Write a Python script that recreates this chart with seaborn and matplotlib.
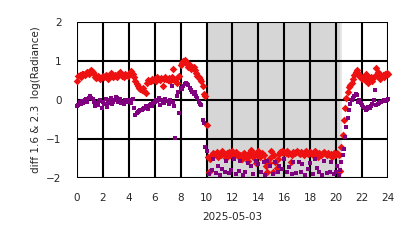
import numpy as np
import pandas as pd
import matplotlib
matplotlib.use("Agg")
import matplotlib.pyplot as plt
import seaborn as sns

# hours of day (one sample every 0.1 h)
hours = np.round(np.arange(0, 24.01, 0.1), 1)

red_diff = [
    0.50, 0.62, 0.65, 0.60, 0.66, 0.68, 0.64, 0.70, 0.72, 0.68,
    0.75, 0.78, 0.72, 0.66, 0.60, 0.56, 0.62, 0.58, 0.55, 0.60,
    0.62, 0.58, 0.64, 0.60, 0.55, 0.62, 0.70, 0.66, 0.60, 0.65,
    0.62, 0.60, 0.66, 0.72, 0.68, 0.62, 0.60, 0.66, 0.64, 0.62,
    0.66, 0.70, 0.74, 0.68, 0.60, 0.48, 0.40, 0.35, 0.32, 0.28,
    0.25, 0.30, 0.22, 0.18, 0.45, 0.52, 0.50, 0.48, 0.55, 0.52,
    0.55, 0.50, 0.58, 0.55, 0.52, 0.56, 0.35, 0.55, 0.58, 0.55,
    0.52, 0.56, 0.50, 0.60, 0.80, 0.55, 0.50, 0.45, 0.58, 0.62,
    0.90, 0.95, 1.00, 1.02, 0.98, 0.92, 0.85, 0.90, 0.80, 0.82,
    0.86, 0.76, 0.70, 0.62, 0.58, 0.55, 0.50, 0.35, 0.15, 0.10,
    -0.65, -1.45, -1.85, -1.50, -1.40, -1.35, -1.42, -1.38, -1.32, -1.45,
    -1.38, -1.40, -1.30, -1.35, -1.42, -1.48, -1.36, -1.32, -1.40, -1.35,
    -1.30, -1.35, -1.40, -1.32, -1.38, -1.45, -1.42, -1.50, -1.38, -1.35,
    -1.42, -1.48, -1.55, -1.35, -1.28, -1.40, -1.45, -1.38, -1.62, -1.40,
    -1.30, -1.45, -1.38, -1.35, -1.40, -1.55, -1.70, -1.85, -1.62, -1.48,
    -1.30, -1.85, -1.40, -1.60, -1.75, -1.50, -1.38, -1.33, -1.30, -1.35,
    -1.32, -1.36, -1.30, -1.38, -1.35, -1.58, -1.40, -1.33, -1.36, -1.32,
    -1.30, -1.35, -1.38, -1.32, -1.36, -1.40, -1.34, -1.30, -1.38, -1.35,
    -1.32, -1.36, -1.40, -1.34, -1.30, -1.38, -1.45, -1.36, -1.40, -1.38,
    -1.35, -1.32, -1.38, -1.42, -1.35, -1.40, -1.38, -1.45, -1.36, -1.40,
    -1.38, -1.36, -1.40, -1.82, -1.20, -0.90, -0.50, -0.20, 0.05, 0.20,
    0.33, 0.38, 0.45, 0.55, 0.65, 0.72, 0.78, 0.70, 0.62, 0.58,
    0.55, 0.60, 0.52, 0.66, 0.62, 0.45, 0.55, 0.60, 0.50, 0.58,
    0.62, 0.83, 0.72, 0.60, 0.55, 0.62, 0.65, 0.60, 0.66, 0.70,
    0.68,
]

# NaN = no purple sample at that time
purple_diff = [
    -0.15, -0.12, -0.05, -0.10, -0.02, -0.08, 0.00, 0.02, -0.05, 0.05,
    0.10, 0.06, 0.02, -0.05, -0.15, -0.08, -0.12, -0.02, 0.00, -0.20,
    -0.05, -0.10, 0.02, -0.18, -0.08, 0.00, 0.05, -0.10, -0.05, 0.00,
    0.08, 0.05, -0.05, 0.02, -0.08, -0.05, -0.10, 0.00, -0.05, -0.02,
    0.00, -0.05, -0.08, 0.02, -0.20, -0.38, -0.32, -0.30, -0.28, -0.25,
    -0.25, -0.22, -0.20, -0.15, -0.18, -0.22, -0.12, -0.10, -0.15, -0.08,
    -0.05, 0.00, -0.02, 0.05, -0.12, 0.00, -0.05, -0.08, 0.02, -0.02,
    -0.02, -0.10, 0.00, 0.35, -0.05, -0.15, -0.98, 0.10, 0.20, -0.32,
    0.30, 0.28, 0.35, 0.42, 0.44, 0.40, 0.38, 0.30, 0.25, 0.20,
    0.15, 0.20, 0.10, 0.05, -0.05, -0.10, -0.12, -0.50, -0.60, -1.20,
    -1.30, np.nan, -1.90, np.nan, -1.80, -1.50, np.nan, -1.88, np.nan, -1.70,
    -1.92, np.nan, -1.78, np.nan, -1.85, -1.55, np.nan, -1.88, np.nan, -1.80,
    np.nan, -1.50, np.nan, -1.90, np.nan, -1.82, -1.55, np.nan, -1.92, np.nan,
    -1.85, np.nan, -1.62, np.nan, -1.70, np.nan, -1.90, np.nan, -1.55, np.nan,
    -1.65, np.nan, -1.85, np.nan, -1.60, -1.92, np.nan, -1.55, np.nan, -1.68,
    np.nan, -1.90, np.nan, -1.58, np.nan, -1.85, -1.70, np.nan, -1.78, np.nan,
    -1.52, np.nan, -1.85, np.nan, -1.72, np.nan, -1.90, -1.60, np.nan, -1.88,
    np.nan, -1.58, np.nan, -1.85, -1.65, np.nan, -1.92, np.nan, -1.78, np.nan,
    -1.62, np.nan, -1.90, np.nan, -1.52, -1.75, np.nan, -1.85, np.nan, -1.92,
    np.nan, -1.55, np.nan, -1.88, np.nan, -1.85, -1.60, np.nan, -1.90, np.nan,
    -1.85, -1.70, -1.92, -1.80, -1.60, -1.40, -1.25, -0.95, -0.70, -0.45,
    -0.25, -0.10, 0.00, 0.05, 0.10, 0.15, 0.12, -0.05, 0.00, -0.08,
    -0.12, -0.17, -0.20, -0.25, -0.22, -0.18, -0.20, -0.15, -0.10, 0.00,
    0.25, -0.12, -0.10, -0.08, -0.05, -0.05, -0.02, 0.00, -0.03, 0.00,
    0.02,
]

night_start, night_end = 10.0, 20.3
x_ticks = [0, 2, 4, 6, 8, 10, 12, 14, 16, 18, 20, 22, 24]
y_ticks = [-2, -1, 0, 1, 2]

df = pd.DataFrame({"hour": hours, "red": red_diff, "purple": purple_diff})

sns.set_style("white")
plt.rcParams["font.family"] = ["DejaVu Sans"]

fig = plt.figure(figsize=(4.14, 2.48), dpi=100)
ax = fig.add_axes([0.186, 0.282, 0.751, 0.629])

ax.axvspan(night_start, night_end, color="#d6d6d6", zorder=0, lw=0)
ax.axvspan(night_end, 20.45, color="#e6e6e6", zorder=0, lw=0)

sns.scatterplot(data=df, x="hour", y="red", ax=ax, marker="D", color="#ee1111",
                s=15, linewidth=0, zorder=3, clip_on=False)
sns.scatterplot(data=df.dropna(), x="hour", y="purple", ax=ax, marker="s", color="#800080",
                s=8, linewidth=0, zorder=4, clip_on=False)

ax.set_xlim(0, 24)
ax.set_ylim(-2, 2)
ax.set_xticks(x_ticks)
ax.set_yticks(y_ticks)
ax.grid(True, color="black", linewidth=1.5, zorder=2)
ax.set_axisbelow(False)
for sp in ax.spines.values():
    sp.set_visible(False)
ax.tick_params(axis="both", direction="out", length=7, width=1.5, color="black",
               labelsize=7.5, pad=4)
ax.set_xlabel("2025-05-03", fontsize=7.5, labelpad=6)
ax.set_ylabel("diff 1.6 & 2.3  log(Radiance)", fontsize=7.5)

fig.savefig("out.png", dpi=100)
